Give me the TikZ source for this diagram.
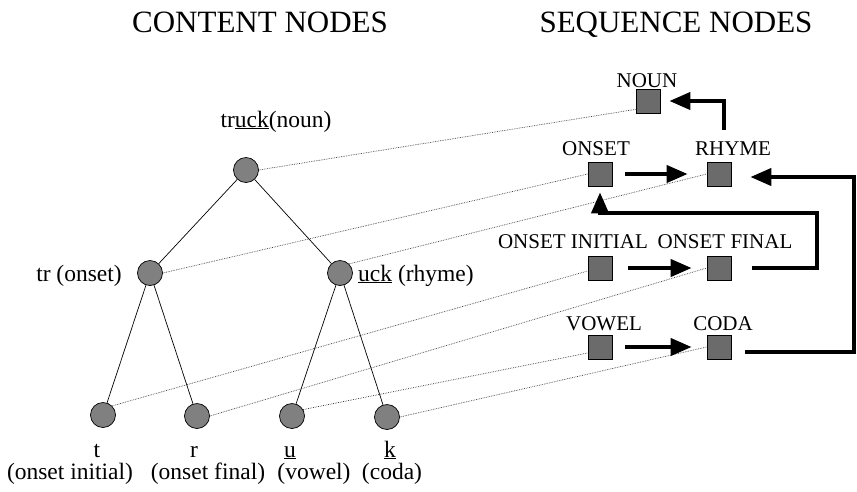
\documentclass[tikz,border=0pt]{standalone}
\usepackage{fontspec}
\setmainfont{Liberation Serif}
\usetikzlibrary{arrows.meta}
\begin{document}
\begin{tikzpicture}[x=1pt,y=-1pt,
  circ/.style={circle,draw=black,line width=0.7pt,fill=black!50,minimum size=25pt,inner sep=0pt},
  sq/.style={rectangle,draw=black,line width=0.7pt,fill=black!58,minimum size=24pt,inner sep=0pt},
  treeline/.style={draw=black,line width=0.7pt},
  dotline/.style={draw=black!75,densely dotted,line width=0.7pt},
  bigarrow/.style={draw=black,line width=4pt,-{Triangle[length=21pt,width=17pt]}},
  head/.style={anchor=base,inner sep=0pt,font=\fontsize{31}{31}\selectfont},
  clbl/.style={anchor=base,inner sep=0pt,font=\fontsize{23.5}{24}\selectfont},
  slbl/.style={anchor=base,inner sep=0pt,font=\fontsize{21}{22}\selectfont}]
\useasboundingbox (0,0) rectangle (857,491);
\fill[white] (0,0) rectangle (857,491);

% headings
\node[head] (h1) at (260,32) {CONTENT NODES};
\node[head] (h2) at (676,32) {SEQUENCE NODES};

% content nodes
\node[circ] (root) at (246,170) {};
\node[circ] (tr) at (150,273) {};
\node[circ] (uck) at (340,273) {};
\node[circ] (t) at (103,415) {};
\node[circ] (r) at (197,416) {};
\node[circ] (u) at (292,416) {};
\node[circ] (k) at (387,417) {};

\draw[treeline] (root) -- (tr);
\draw[treeline] (root) -- (uck);
\draw[treeline] (tr) -- (t);
\draw[treeline] (tr) -- (r);
\draw[treeline] (uck) -- (u);
\draw[treeline] (uck) -- (k);

% content labels
\node[clbl] (ltruck) at (276,127) {tr\underline{uck}(noun)};
\node[clbl] (ltr) at (79,281) {tr (onset)};
\node[clbl,anchor=base west] (luck) at (358,281) {\underline{uck} (rhyme)};
\node[clbl] (lt) at (97,457) {t};
\node[clbl] (lr) at (194,457) {r};
\node[clbl] (lu) at (290,457) {\underline{u}};
\node[clbl] (lk) at (390,457) {\underline{k}};
\node[clbl] (ltt) at (70,479) {(onset initial)};
\node[clbl] (lrr) at (208,479) {(onset final)};
\node[clbl] (luu) at (314,479) {(vowel)};
\node[clbl] (lkk) at (392,479) {(coda)};

% sequence nodes
\node[sq] (noun) at (648,101) {};
\node[sq] (onset) at (600,174) {};
\node[sq] (rhyme) at (719,174) {};
\node[sq] (oi) at (600,268) {};
\node[sq] (of) at (719,268) {};
\node[sq] (vowel) at (600,347) {};
\node[sq] (coda) at (719,347) {};

\node[slbl] (snoun) at (647,87) {NOUN};
\node[slbl] (sonset) at (596,155) {ONSET};
\node[slbl] (srhyme) at (733,155) {RHYME};
\node[slbl] (soi) at (573,248) {ONSET INITIAL};
\node[slbl] (sof) at (725,248) {ONSET FINAL};
\node[slbl] (svowel) at (604,330) {VOWEL};
\node[slbl] (scoda) at (723,330) {CODA};

% dotted correspondences
\draw[dotline] (root.east) -- ([yshift=4pt]noun.south west);
\draw[dotline] (tr.east) -- (onset.west);
\draw[dotline] (uck.north east) -- (rhyme.west);
\draw[dotline] (t.north east) -- ([yshift=-3pt]oi.west);
\draw[dotline] (r.east) -- (of.west);
\draw[dotline] (u.30) -- ([yshift=-6pt]vowel.west);
\draw[dotline] (k.east) -- (coda.west);

% thick sequence arrows
\draw[bigarrow] ([xshift=5pt,yshift=32pt]rhyme.north) |- ([xshift=9pt]noun.east);
\draw[bigarrow] ([xshift=13pt]onset.east) -- ([xshift=-19pt]rhyme.west);
\draw[bigarrow] ([xshift=16pt]oi.east) -- ([xshift=-15pt]of.west);
\draw[bigarrow] ([xshift=13pt]vowel.east) -- ([xshift=-15pt]coda.west);
\draw[bigarrow] ([xshift=21pt]of.east) -| (817,213) -| ([yshift=-6pt]onset.south);
\draw[bigarrow] ([xshift=14pt,yshift=-5pt]coda.east) -| (854,177) -- ([xshift=19pt,yshift=-3pt]rhyme.east);
\end{tikzpicture}
\end{document}
